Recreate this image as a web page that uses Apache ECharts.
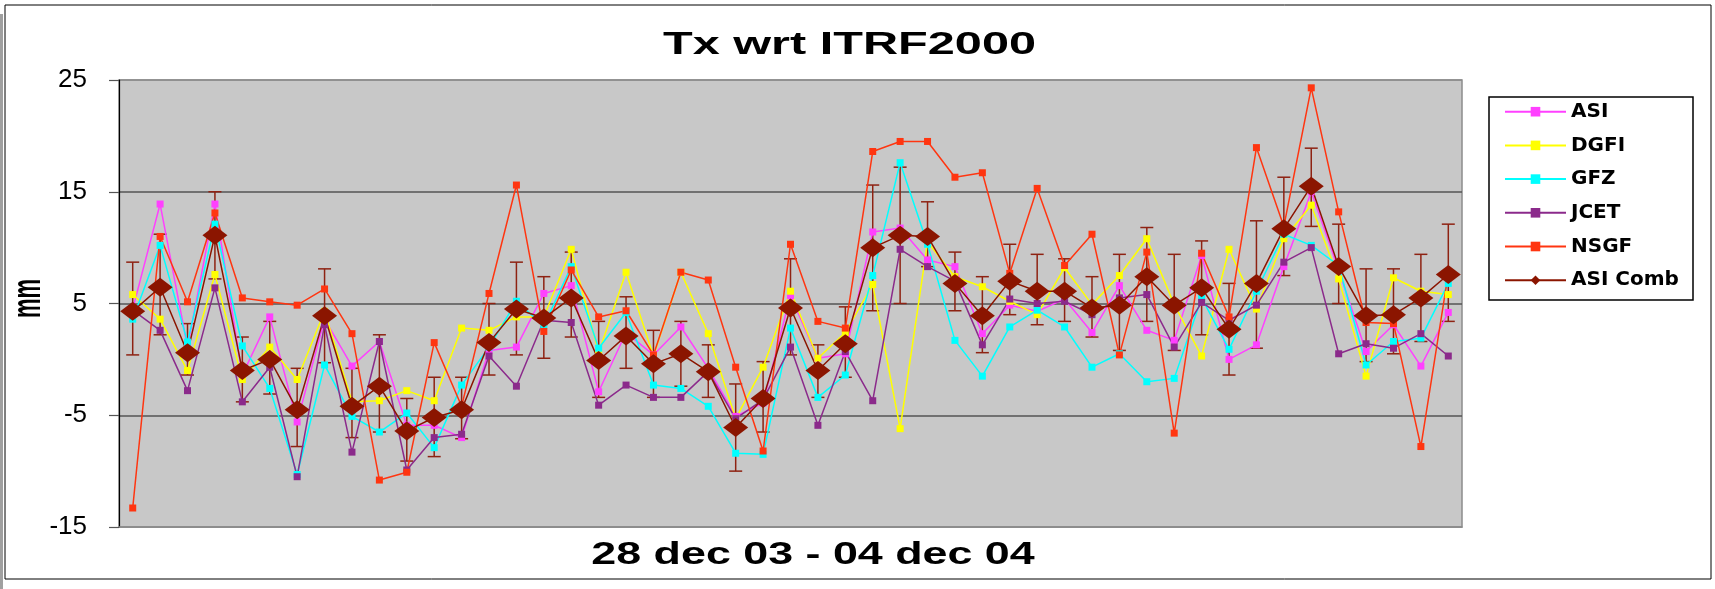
<!DOCTYPE html>
<html>
<head>
<meta charset="utf-8">
<script src="https://cdn.jsdelivr.net/npm/echarts@6/dist/echarts.min.js"></script>
<style>html,body{margin:0;padding:0;background:#fff}#c{width:1715px;height:589px}</style>
</head>
<body>
<div id="c"></div>
<script>
// GPS weeks, 28 dec 03 - 04 dec 04
const weeks = ['1251','1252','1253','1254','1255','1256','1257','1258','1259','1260',
  '1261','1262','1263','1264','1265','1266','1267','1268','1269','1270',
  '1271','1272','1273','1274','1275','1276','1277','1278','1279','1280',
  '1281','1282','1283','1284','1285','1286','1287','1288','1289','1290',
  '1291','1292','1293','1294','1295','1296','1297','1298','1299'];

const asi = [4.5, 13.9, 1.1, 13.9, -1.4, 3.8, -5.6, 3.6, -0.6, 1.6,
  -5.9, -5.9, -7.0, 0.8, 1.1, 5.9, 6.6, -2.9, 2.4, 0.4,
  2.9, -0.8, -5.1, -3.9, 5.7, 0.1, 0.5, 11.4, 11.75, 8.9,
  8.3, 2.3, 4.85, 4.3, 5.4, 2.4, 6.6, 2.6, 1.7, 9.3,
  0.0, 1.3, 8.3, 15.0, 8.0, 0.7, 3.1, -0.6, 4.2];
const dgfi = [5.8, 3.6, -1.0, 7.6, -1.8, 1.1, -1.8, 4.3, -3.8, -3.7,
  -2.8, -3.7, 2.8, 2.6, 3.8, 3.8, 9.85, 0.6, 7.8, 0.3,
  7.8, 2.3, -5.3, -0.7, 6.1, 0.1, 2.4, 6.7, -6.2, 10.5,
  7.4, 6.5, 5.2, 4.0, 8.2, 4.9, 7.5, 10.8, 4.9, 0.3,
  9.85, 4.5, 10.8, 13.8, 7.2, -1.5, 7.3, 6.1, 5.8];
const gfz = [3.6, 10.2, 1.55, 12.1, 1.2, -2.6, -10.3, -0.5, -5.1, -6.5,
  -4.8, -7.9, -2.3, 1.1, 5.2, 3.0, 8.3, 1.0, 4.2, -2.3,
  -2.6, -4.2, -8.4, -8.5, 2.8, -3.4, -1.4, 7.5, 17.6, 10.3,
  1.7, -1.5, 2.9, 4.4, 2.9, -0.7, 0.5, -2.0, -1.7, 5.5,
  0.9, 6.1, 11.2, 10.2, 8.4, -0.5, 1.6, 1.9, 6.8];
const jcet = [4.4, 2.6, -2.8, 6.4, -3.8, -0.7, -10.5, 3.1, -8.3, 1.6,
  -9.9, -7.0, -6.7, 0.3, -2.4, 3.5, 3.3, -4.1, -2.3, -3.4,
  -3.4, -1.1, -5.3, -3.6, 1.1, -5.9, 0.7, -3.7, 9.85, 8.3,
  7.0, 1.3, 5.4, 5.0, 5.2, 4.0, 5.5, 5.8, 1.1, 5.1,
  3.5, 4.85, 8.7, 10.0, 0.5, 1.4, 1.0, 2.3, 0.3];
const nsgf = [-13.3, 11.0, 5.15, 13.1, 5.5, 5.15, 4.85, 6.3, 2.3, -10.8,
  -10.1, 1.5, -4.2, 5.9, 15.6, 2.5, 8.0, 3.8, 4.35, 0.4,
  7.8, 7.1, -0.7, -8.2, 10.3, 3.4, 2.8, 18.6, 19.5, 19.5,
  16.3, 16.7, 7.7, 15.3, 8.4, 11.2, 0.4, 9.6, -6.6, 9.5,
  3.8, 18.95, 11.9, 24.3, 13.2, 3.3, 3.2, -7.8, 7.7];
const asiComb = [4.3, 6.45, 0.6, 11.1, -1.0, 0.0, -4.5, 3.9, -4.2, -2.4,
  -6.4, -5.2, -4.5, 1.5, 4.5, 3.7, 5.5, -0.1, 2.1, -0.4,
  0.5, -1.1, -6.1, -3.5, 4.6, -1.0, 1.4, 10.0, 11.1, 11.0,
  6.8, 3.9, 7.0, 6.1, 6.1, 4.6, 4.85, 7.4, 4.85, 6.4,
  2.7, 6.8, 11.7, 15.5, 8.3, 3.9, 4.0, 5.5, 7.6];
const combLow = [0.4, 2.2, -1.4, 7.2, -3.8, -3.1, -7.8, -0.3, -7.0, -6.5,
  -9.1, -8.7, -7.1, -1.4, 0.4, 0.1, 2.0, -3.4, -0.8, -3.4,
  -2.4, -3.4, -10.0, -6.5, 0.4, -3.4, -1.6, 4.35, 5.0, 8.3,
  4.35, 0.6, 4.0, 3.1, 3.4, 2.0, 0.8, 3.4, 0.8, 2.2,
  -1.4, 1.0, 7.5, 11.9, 5.0, -0.2, 0.5, 1.6, 3.4];
const combHigh = [8.7, 11.2, 3.2, 15.0, 2.0, 3.4, -0.8, 8.1, -0.8, 2.2,
  -3.5, -1.6, -1.6, 5.0, 8.7, 7.4, 9.6, 3.4, 5.6, 2.6,
  3.4, 1.3, -2.2, -0.2, 9.0, 1.3, 4.7, 15.6, 17.2, 14.1,
  9.6, 7.4, 10.3, 9.4, 9.0, 7.4, 9.4, 11.8, 9.4, 10.6,
  6.8, 12.4, 16.3, 18.9, 12.1, 8.1, 8.1, 9.4, 12.1];
const yTicks = [-15, -5, 5, 15, 25];

const chart = echarts.init(document.getElementById('c'), null, {renderer: 'canvas'});

function lineSeries(name, data, color) {
  return {
    name: name, type: 'line', data: data,
    symbol: 'rect', symbolSize: 7, showSymbol: true, showAllSymbol: true,
    lineStyle: {color: color, width: 1.5},
    itemStyle: {color: color},
    emphasis: {disabled: true}
  };
}

const errData = weeks.map((w, i) => [i, combLow[i], combHigh[i]]);

const option = {
  animation: false,
  backgroundColor: '#ffffff',
  grid: {left: 119, right: 253, top: 80, bottom: 62, show: true,
         backgroundColor: '#c8c8c8', borderColor: '#8c8c8c', borderWidth: 1.5},
  xAxis: {
    type: 'category', data: weeks, boundaryGap: true,
    axisLine: {show: true, onZero: false, lineStyle: {color: '#8c8c8c', width: 1.5}},
    axisTick: {show: false}, axisLabel: {show: false}, splitLine: {show: false}
  },
  yAxis: {
    type: 'value', min: yTicks[0], max: yTicks[yTicks.length - 1], interval: 10,
    axisLine: {show: true, lineStyle: {color: '#000', width: 1.2}},
    axisTick: {show: true, length: 10, lineStyle: {color: '#555', width: 1.2}},
    axisLabel: {margin: 32, fontSize: 26, color: '#000', fontFamily: 'Liberation Sans'},
    splitLine: {show: true, lineStyle: {color: ['#8c8c8c', '#555', '#555', '#555', '#8c8c8c'], width: 1.5}}
  },
  legend: {
    orient: 'vertical', left: 1504, top: 101.7, padding: 0,
    itemWidth: 61, itemHeight: 12, itemGap: 13.7,
    data: ['ASI', 'DGFI', 'GFZ', 'JCET', 'NSGF', 'ASI Comb'],
    textStyle: {fontFamily: 'DejaVu Sans', fontWeight: 'bold', fontSize: 20, lineHeight: 20, color: '#000'},
    selectedMode: false
  },
  graphic: [
    {type: 'rect', shape: {x: 5, y: 5, width: 1706, height: 574}, style: {fill: 'none', stroke: '#000', lineWidth: 1}, silent: true, z: -1},
    {type: 'rect', shape: {x: 0, y: 14, width: 3, height: 575}, style: {fill: '#a0a0a0'}, silent: true},
    {type: 'rect', shape: {x: 1489, y: 97, width: 204, height: 203}, style: {fill: 'none', stroke: '#000', lineWidth: 1.5}, silent: true},
    {type: 'text', x: 849.5, y: 44.7, scaleX: 1.52, silent: true,
     style: {text: 'Tx wrt ITRF2000', font: 'bold 32px "Liberation Sans"', fill: '#000', align: 'center', verticalAlign: 'middle'}},
    {type: 'text', x: 813, y: 555.3, scaleX: 1.40, silent: true,
     style: {text: '28 dec 03 - 04 dec 04', font: 'bold 32px "Liberation Sans"', fill: '#000', align: 'center', verticalAlign: 'middle'}},
    {type: 'text', x: 29, y: 298.5, rotation: Math.PI / 2, scaleX: 0.55, silent: true,
     style: {text: 'mm', font: 'bold 40px "Liberation Sans"', fill: '#000', align: 'center', verticalAlign: 'middle'}}
  ],
  series: [
    lineSeries('ASI', asi, '#ff40ff'),
    lineSeries('DGFI', dgfi, '#ffff00'),
    lineSeries('GFZ', gfz, '#00ffff'),
    lineSeries('JCET', jcet, '#8b2a8b'),
    lineSeries('NSGF', nsgf, '#ff3510'),
    {
      name: 'err', type: 'custom', data: errData,
      encode: {x: 0, y: [1, 2]},
      renderItem: function (params, api) {
        const x = api.value(0);
        const lo = api.coord([x, api.value(1)]);
        const hi = api.coord([x, api.value(2)]);
        const hw = 6.5;
        const st = {stroke: '#8e2212', lineWidth: 1.5};
        return {type: 'group', children: [
          {type: 'line', shape: {x1: lo[0], y1: lo[1], x2: hi[0], y2: hi[1]}, style: st},
          {type: 'line', shape: {x1: lo[0] - hw, y1: lo[1], x2: lo[0] + hw, y2: lo[1]}, style: st},
          {type: 'line', shape: {x1: hi[0] - hw, y1: hi[1], x2: hi[0] + hw, y2: hi[1]}, style: st}
        ]};
      },
      silent: true
    },
    {
      name: 'ASI Comb', type: 'line', data: asiComb,
      symbol: 'diamond', symbolSize: [25, 19], showSymbol: true, showAllSymbol: true,
      lineStyle: {color: '#8b1500', width: 1.5},
      itemStyle: {color: '#8b1500'},
      emphasis: {disabled: true}
    }
  ]
};
chart.setOption(option);
</script>
</body>
</html>
